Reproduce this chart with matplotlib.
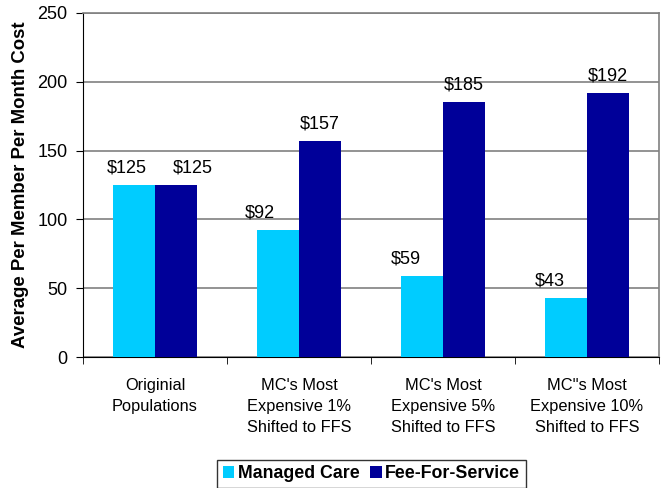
import matplotlib as mpl
mpl.use('Agg')
import matplotlib.pyplot as plt
import numpy as np

categories = ["Originial\nPopulations",
              "MC's Most\nExpensive 1%\nShifted to FFS",
              "MC's Most\nExpensive 5%\nShifted to FFS",
              "MC''s Most\nExpensive 10%\nShifted to FFS"]
managed_care = [125, 92, 59, 43]
fee_for_service = [125, 157, 185, 192]
series_names = ['Managed Care', 'Fee-For-Service']
yticks = [0, 50, 100, 150, 200, 250]

# horizontal nudges of the value labels (points), as placed in the original
mc_shift = [-5, -13, -12, -12]
ffs_shift = [12, 0, 0, 0]

plt.rcParams['font.family'] = ['Liberation Sans', 'DejaVu Sans']

def main():
    fig = plt.figure(figsize=(6.64, 4.88), dpi=100)
    ax = fig.add_axes([0.125, 0.2684, 0.8675, 0.705])
    x = np.arange(len(categories))
    w = 0.29
    b1 = ax.bar(x - w / 2, managed_care, w, color='#00CCFF', label=series_names[0], zorder=3)
    b2 = ax.bar(x + w / 2, fee_for_service, w, color='#000099', label=series_names[1], zorder=3)
    for bars, vals, sh in ((b1, managed_care, mc_shift), (b2, fee_for_service, ffs_shift)):
        for r, v, dx in zip(bars, vals, sh):
            ax.annotate('$%d' % v, (r.get_x() + r.get_width() / 2, v),
                        xytext=(dx, 9), textcoords='offset points',
                        ha='center', va='baseline', fontsize=13)

    ax.set_xlim(-0.5, len(categories) - 0.5)
    ax.set_ylim(0, 250)
    ax.set_yticks(yticks)
    ax.tick_params(axis='y', labelsize=13, length=5, direction='out', pad=6)
    ax.yaxis.grid(True, color='#808080', linewidth=1.2, zorder=0)

    ax.set_xticks(x)
    ax.set_xticklabels(categories, fontsize=11.8, linespacing=1.5)
    ax.tick_params(axis='x', length=0, pad=15)
    ax.set_xticks(np.arange(-0.5, len(categories)), minor=True)
    ax.tick_params(axis='x', which='minor', length=5, direction='out')

    for s in ('top', 'right'):
        ax.spines[s].set_color('#808080')
        ax.spines[s].set_linewidth(1.2)
    for s in ('left', 'bottom'):
        ax.spines[s].set_color('black')

    ax.set_ylabel('Average Per Member Per Month Cost', fontsize=13.4,
                  fontweight='bold', labelpad=6)

    leg = fig.legend(loc='upper center', bbox_to_anchor=(0.5595, 0.0574), ncol=2,
                     frameon=True, fancybox=False, edgecolor='black',
                     prop={'weight': 'bold', 'size': 12.8},
                     handlelength=0.65, handleheight=0.65, handletextpad=0.2,
                     columnspacing=0.6, borderpad=0.3, borderaxespad=0)
    leg.get_frame().set_linewidth(1.0)

    fig.savefig('out.png', dpi=100)

if __name__ == '__main__':
    main()
